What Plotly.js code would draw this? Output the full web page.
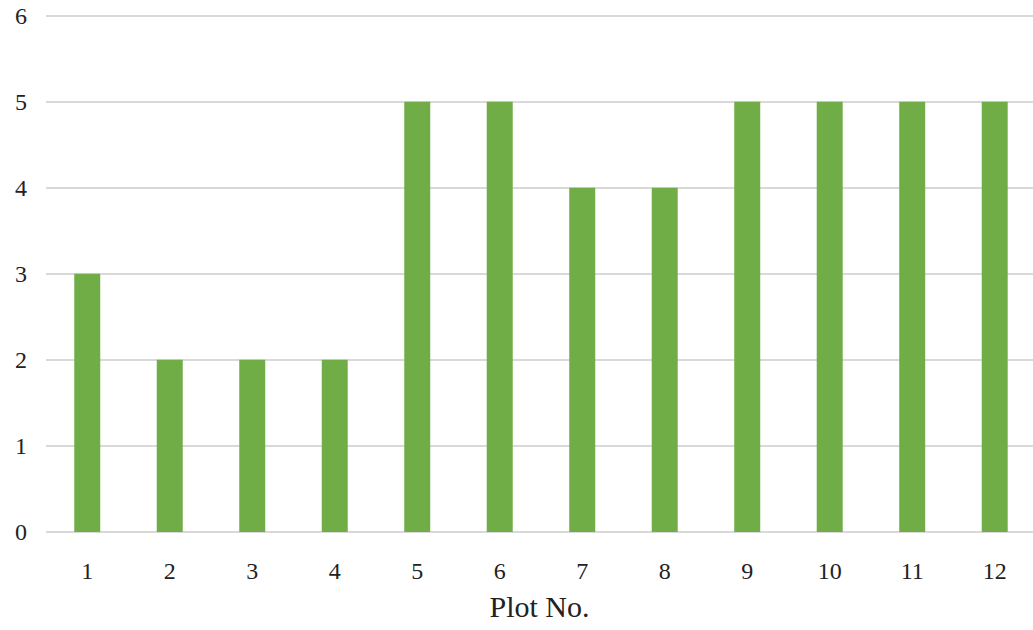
<!DOCTYPE html>
<html><head><meta charset="utf-8">
<script src="https://cdn.plot.ly/plotly-3.0.1.min.js"></script>
<style>html,body{margin:0;padding:0;background:#fff;}</style>
</head><body>
<div id="chart" style="width:1033px;height:630px;"></div>
<script>
var categories = [1,2,3,4,5,6,7,8,9,10,11,12];
var tickLabels = ["1","2","3","4","5","6","7","8","9","10","11","12"];
var values = [3,2,2,2,5,5,4,4,5,5,5,5];

var trace = {
  type: 'bar',
  x: categories,
  y: values,
  width: 0.315,
  marker: {color: '#70AD47'},
  hoverinfo: 'x+y'
};
var layout = {
  width: 1033, height: 630,
  margin: {l: 46, r: 0, t: 13, b: 98},
  paper_bgcolor: '#fff', plot_bgcolor: '#fff',
  showlegend: false,
  font: {family: 'Liberation Serif, Times New Roman, serif', color: '#222', size: 22},
  xaxis: {
    range: [0.5, 12.464],
    tickvals: categories, ticktext: tickLabels,
    showgrid: false, zeroline: false, showline: false,
    ticks: '', ticklen: 0,
    tickfont: {size: 24},
    ticklabelstandoff: 22,
    title: {text: 'Plot No.', font: {size: 30}, standoff: 12}
  },
  yaxis: {
    range: [0, 6.03], tickvals: [0,1,2,3,4,5,6],
    showgrid: true, gridcolor: '#d9d9d9', gridwidth: 2,
    zeroline: true, zerolinecolor: '#d9d9d9', zerolinewidth: 2,
    showline: false, ticks: '',
    tickfont: {size: 24},
    ticklabelstandoff: 18
  },
  bargap: 0.685
};
Plotly.newPlot('chart', [trace], layout, {displayModeBar: false, staticPlot: true});
</script>
</body></html>
